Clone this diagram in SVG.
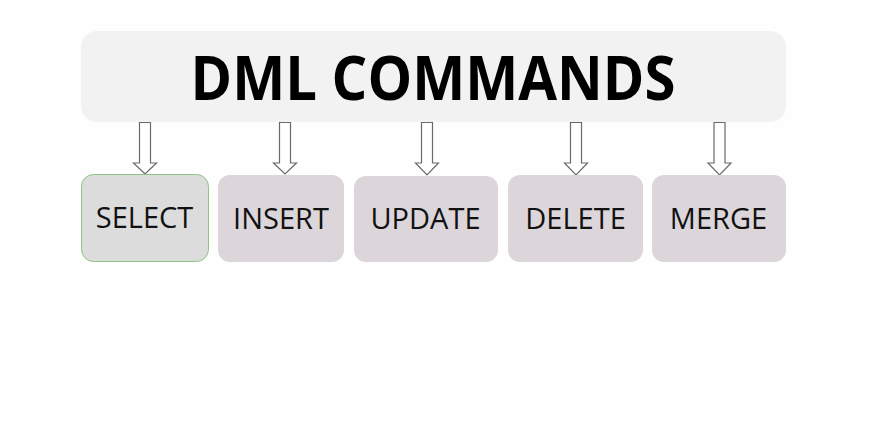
<svg xmlns="http://www.w3.org/2000/svg" width="878" height="426" viewBox="0 0 878 426">
<defs>
<style>
.title{font-family:"Open Sans","Liberation Sans",sans-serif;font-weight:bold;font-size:60px;fill:#000;text-anchor:middle}
.lbl{font-family:"Open Sans","Liberation Sans",sans-serif;font-size:29px;fill:#111;text-anchor:middle}
.box{fill:#dcd5da;stroke:none}
.sel{fill:#dcdcdc;stroke:#8fc483;stroke-width:1}
.arr{fill:#fff;stroke:#6a6a6a;stroke-width:1.2;stroke-linejoin:miter}
</style>
</defs>
<rect x="0" y="0" width="878" height="426" fill="#fefefe"/>
<g id="header">
<rect x="81" y="31" width="705" height="91" rx="16" fill="#f2f2f2"/>
<text class="title" x="433" y="100" textLength="485" lengthAdjust="spacingAndGlyphs">DML COMMANDS</text>
</g>
<g id="connectors">
<path class="arr" d="M139.5,122.5 H150.5 V163 H156.5 L145,174 L133.5,163 H139.5 Z"/>
<path class="arr" d="M279.5,122.5 H290.5 V163 H296.5 L285,174 L273.5,163 H279.5 Z"/>
<path class="arr" d="M421.5,122.5 H432.5 V163 H438.5 L427,175 L415.5,163 H421.5 Z"/>
<path class="arr" d="M570.5,122.5 H581.5 V163 H587.5 L576,175 L564.5,163 H570.5 Z"/>
<path class="arr" d="M714,122.5 H725 V163 H731 L719.5,175 L708,163 H714 Z"/>
</g>
<g id="select">
<rect class="sel" x="81.5" y="174.5" width="127" height="87" rx="12"/>
<text class="lbl" x="144.5" y="228">SELECT</text>
</g>
<g id="insert">
<rect class="box" x="218" y="175" width="126" height="87" rx="12"/>
<text class="lbl" x="281" y="229">INSERT</text>
</g>
<g id="update">
<rect class="box" x="354" y="176" width="144" height="86" rx="12"/>
<text class="lbl" x="425.5" y="229">UPDATE</text>
</g>
<g id="delete">
<rect class="box" x="508" y="175" width="135" height="87" rx="12"/>
<text class="lbl" x="575.5" y="229">DELETE</text>
</g>
<g id="merge">
<rect class="box" x="652" y="175" width="134" height="87" rx="12"/>
<text class="lbl" x="718.5" y="229">MERGE</text>
</g>
</svg>
